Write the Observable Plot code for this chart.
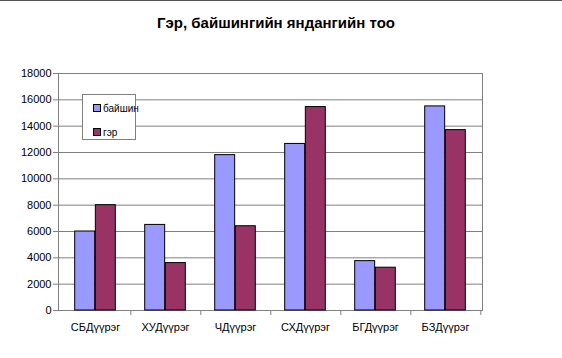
<!DOCTYPE html>
<html>
<head>
<meta charset="utf-8">
<script src="https://cdn.jsdelivr.net/npm/d3@7"></script>
<script src="https://cdn.jsdelivr.net/npm/@observablehq/plot@0.6"></script>
<style>
  html, body { margin: 0; padding: 0; background: #fff; }
  #wrap { position: relative; width: 562px; height: 358px; overflow: hidden; font-family: "Liberation Sans", Arial, sans-serif; border-top: 1px solid #555; box-sizing: border-box; }
  #title { position: absolute; left: 0; top: 0; width: 552px; height: 40px; line-height: 44px; text-align: center; font-weight: bold; font-size: 15px; color: #000; }
  #chart { position: absolute; left: 0; top: 39px; }
  #legend { position: absolute; left: 82px; top: 93px; width: 54px; height: 46px; border: 1px solid #808080; background: #fff; box-sizing: border-box; font-size: 10px; color: #000; }
  .item { position: absolute; left: 10px; height: 12px; line-height: 12px; white-space: nowrap; }
  .sw { display: inline-block; width: 6px; height: 6px; border: 1px solid #000; vertical-align: 0px; margin-right: 2px; }
</style>
</head>
<body>
<div id="wrap">
  <div id="title">Гэр, байшингийн яндангийн тоо</div>
  <div id="chart"></div>
  <div id="legend"></div>
</div>
<script>
const categories = ["СБДүүрэг", "ХУДүүрэг", "ЧДүүрэг", "СХДүүрэг", "БГДүүрэг", "БЗДүүрэг"];
const seriesNames = ["байшин", "гэр"];
const baishin = [6000, 6500, 11800, 12650, 3750, 15500];
const ger = [8000, 3600, 6400, 15450, 3250, 13700];
const yTicks = [0, 2000, 4000, 6000, 8000, 10000, 12000, 14000, 16000, 18000];
const colors = ["#9999FF", "#993366"];

const rowsB = categories.map((c, i) => ({category: c, value: baishin[i]}));
const rowsG = categories.map((c, i) => ({category: c, value: ger[i]}));

const W = 562, H = 319, mL = 58, mR = 80;
const bw = (W - mL - mR) / categories.length;
const outer = bw * 0.208;
const half = bw / 2;

const chart = Plot.plot({
  width: W,
  height: H,
  marginLeft: mL,
  marginRight: mR,
  marginTop: 33,
  marginBottom: 49,
  style: {fontFamily: "'Liberation Sans', Arial, sans-serif", fontSize: "11px", color: "#000", background: "#fff"},
  x: {type: "band", domain: categories, padding: 0},
  y: {domain: [0, 18000]},
  marks: [
    Plot.gridY(yTicks, {stroke: "#808080", strokeOpacity: 1}),
    Plot.frame({stroke: "#808080"}),
    Plot.barY(rowsB, {x: "category", y: "value", fill: colors[0], stroke: "#000", strokeWidth: 1, insetLeft: outer, insetRight: half}),
    Plot.barY(rowsG, {x: "category", y: "value", fill: colors[1], stroke: "#000", strokeWidth: 1, insetLeft: half, insetRight: outer}),
    Plot.axisY(yTicks, {tickSize: 5, tickPadding: 2, tickFormat: d3.format("d"), stroke: "#808080", fill: "#000", label: null}),
    Plot.axisX({tickSize: 0, tickPadding: 13, fill: "#000", label: null}),
    Plot.axisX({tickSize: 5, dx: half, stroke: "#808080", tickFormat: () => "", label: null})
  ]
});
document.getElementById("chart").appendChild(chart);

const legend = document.getElementById("legend");
seriesNames.forEach((name, i) => {
  const item = document.createElement("div");
  item.className = "item";
  item.style.top = (i === 0 ? 8 : 32) + "px";
  const sw = document.createElement("span");
  sw.className = "sw";
  sw.style.background = colors[i];
  item.appendChild(sw);
  item.appendChild(document.createTextNode(name));
  legend.appendChild(item);
});
</script>
</body>
</html>
